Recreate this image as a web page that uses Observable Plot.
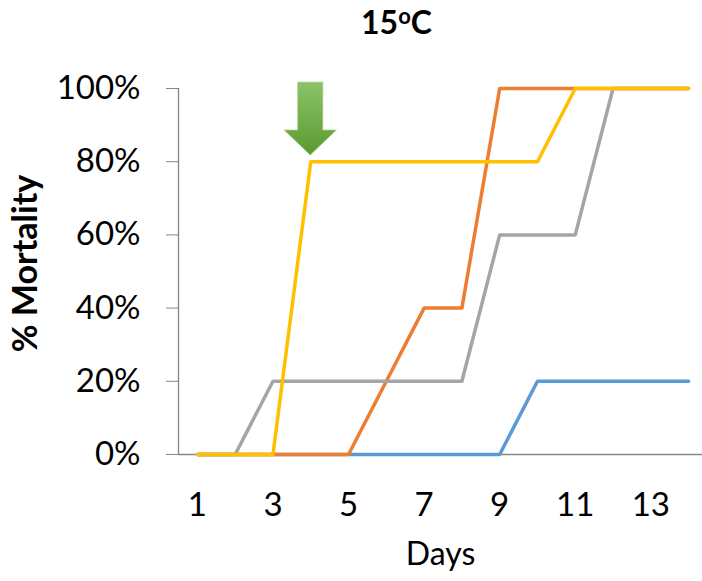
<!DOCTYPE html>
<html>
<head>
<meta charset="utf-8">
<script src="https://cdn.jsdelivr.net/npm/d3@7"></script>
<script src="https://cdn.jsdelivr.net/npm/@observablehq/plot@0.6"></script>
<style>
  body { margin: 0; background: #fff; }
  #wrap { position: relative; width: 702px; height: 581px; }
  #title { position: absolute; left: 361px; top: 2px; font: bold 32px Lato, sans-serif; color: #000; line-height: 40px; white-space: nowrap; }
  #title .sup { font-size: 22px; position: relative; top: -10px; }
  g[aria-label="y-axis tick"] { stroke: #868686; }
</style>
</head>
<body>
<div id="wrap">
  <div id="chart"></div>
  <div id="title">15<span class="sup">o</span>C</div>
</div>
<script>
// ---- data ----
const days   = [1, 2, 3, 4, 5, 6, 7, 8, 9, 10, 11, 12, 13, 14];
const blue   = [0, 0, 0, 0, 0, 0, 0, 0, 0, 20, 20, 20, 20, 20];
const orange = [0, 0, 0, 0, 0, 20, 40, 40, 100, 100, 100, 100, 100, 100];
const gray   = [0, 0, 20, 20, 20, 20, 20, 20, 60, 60, 60, 100, 100, 100];
const yellow = [0, 0, 0, 80, 80, 80, 80, 80, 80, 80, 100, 100, 100, 100];
const xTicks = [1, 3, 5, 7, 9, 11, 13];
const yTicks = [0, 20, 40, 60, 80, 100];
const yLabel = "% Mortality";
const xLabel = "Days";
// annotation arrow (day, top %, neck %, tip %)
const arrowDay = [4];
const arrowTop = [101.6];
const arrowNeck = [88.5];
const arrowTip = [81.7];

const series = [
  {values: blue, color: "#5B9BD5"},
  {values: orange, color: "#ED7D31"},
  {values: gray, color: "#A5A5A5"},
  {values: yellow, color: "#FFC000"}
];

const lineMarks = series.map(s =>
  Plot.line(days.map((d, i) => ({day: d, v: s.values[i]})), {
    x: "day", y: "v", stroke: s.color, strokeWidth: 3.5,
    strokeLinecap: "round", strokeLinejoin: "round"
  })
);

function arrowMark(index, scales) {
  const {x, y} = scales;
  const g = d3.create("svg:g");
  const defs = g.append("defs");
  const grad = defs.append("linearGradient").attr("id", "arrowGrad")
    .attr("x1", 0).attr("y1", 0).attr("x2", 0).attr("y2", 1);
  grad.append("stop").attr("offset", "0%").attr("stop-color", "#8CC36A");
  grad.append("stop").attr("offset", "100%").attr("stop-color", "#5A9A30");
  const cx = x(arrowDay[0]);
  const yt = y(arrowTop[0]), yn = y(arrowNeck[0]), yp = y(arrowTip[0]);
  const sw = 12.5, hw = 26;
  const pts = [
    [cx - sw, yt], [cx + sw, yt], [cx + sw, yn], [cx + hw, yn],
    [cx, yp], [cx - hw, yn], [cx - sw, yn]
  ];
  g.append("path")
    .attr("d", "M" + pts.map(p => p.join(",")).join("L") + "Z")
    .attr("fill", "url(#arrowGrad)")
    .attr("stroke", "#9CCB80").attr("stroke-width", 0.8);
  return g.node();
}

const chart = Plot.plot({
  width: 702,
  height: 581,
  marginLeft: 178,
  marginRight: 0,
  marginTop: 88,
  marginBottom: 127,
  style: {fontFamily: "Lato, sans-serif", fontSize: "33px", color: "#000", background: "#fff", overflow: "visible"},
  x: {domain: [0.5, 14.5], range: [178, 707], ticks: xTicks, tickSize: 0, tickPadding: 38, label: null},
  y: {domain: [0, 100], ticks: yTicks, tickFormat: d => d + "%", tickSize: 12, tickPadding: 26, label: null},
  marks: [
    Plot.ruleY([0], {stroke: "#868686", strokeWidth: 1.3}),
    Plot.ruleX([0.5], {y1: 0, y2: 100, stroke: "#868686", strokeWidth: 1.3}),
    ...lineMarks,
    arrowMark,
    Plot.text([yLabel], {frameAnchor: "left", textAnchor: "middle", dx: -152, dy: -8, rotate: -90, fontWeight: "bold", fontSize: 34, fill: "#000"}),
    Plot.text([xLabel], {frameAnchor: "bottom", dy: 110, fontSize: 32, fill: "#000"})
  ]
});
document.getElementById("chart").appendChild(chart);
</script>
</body>
</html>
